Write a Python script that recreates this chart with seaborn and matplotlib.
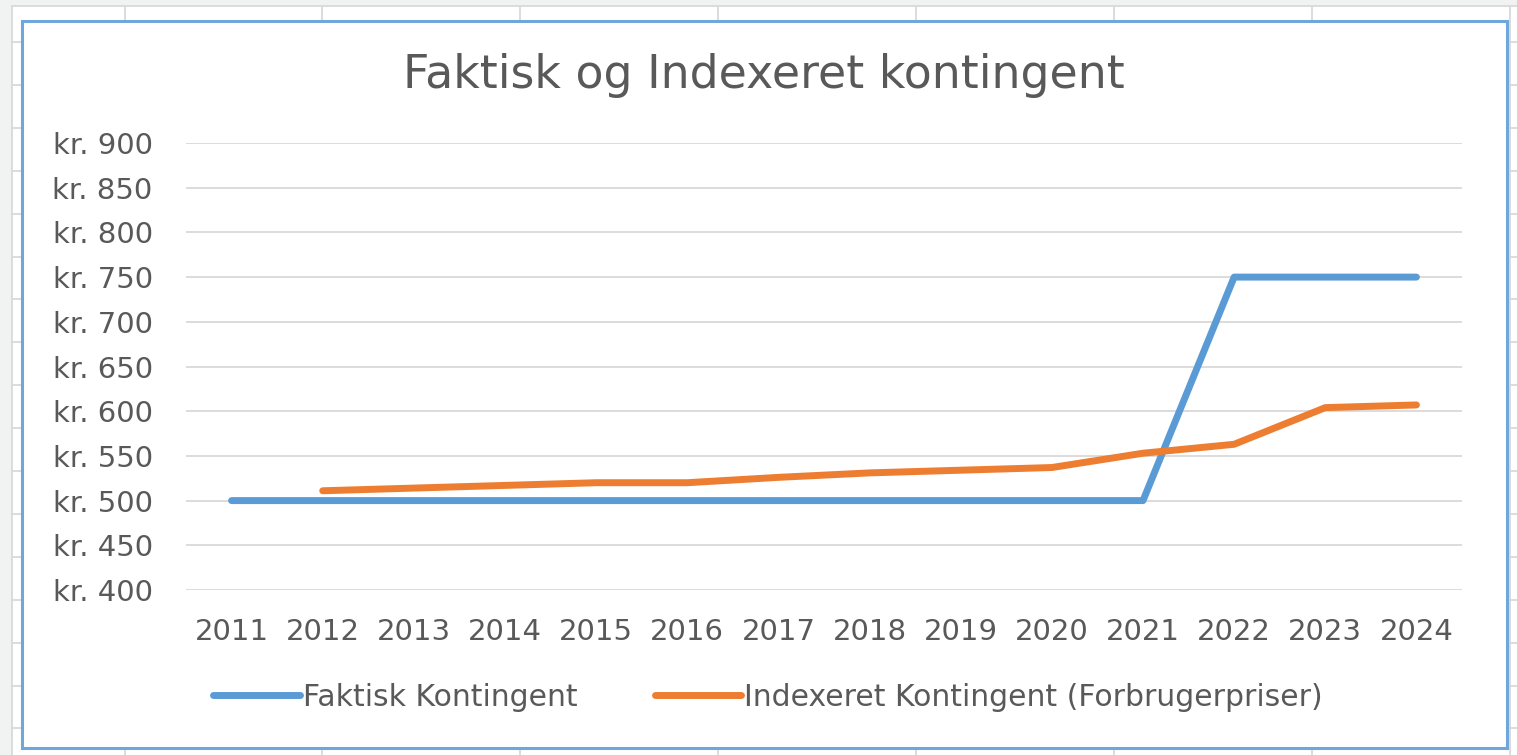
import numpy as np
import pandas as pd
import seaborn as sns
from matplotlib import pyplot as plt
from matplotlib.lines import Line2D
from matplotlib.patches import Rectangle

years = [2011, 2012, 2013, 2014, 2015, 2016, 2017, 2018, 2019, 2020, 2021, 2022, 2023, 2024]
faktisk = [500, 500, 500, 500, 500, 500, 500, 500, 500, 500, 500, 750, 750, 750]
indexeret = [np.nan, 511, 514, 517, 520, 520, 526, 531, 534, 537, 553, 563, 604, 607]
series_names = ["Faktisk Kontingent", "Indexeret Kontingent (Forbrugerpriser)"]
series_colors = ["#5B9BD5", "#ED7D31"]
y_ticks = [400, 450, 500, 550, 600, 650, 700, 750, 800, 850, 900]
title = "Faktisk og Indexeret kontingent"

TEXT = "#595959"
W, H = 1517, 755


def sheet_background(fig):
    # spreadsheet cells behind the chart object
    bg = fig.add_axes([0, 0, 1, 1], zorder=-5)
    bg.set_xlim(0, W)
    bg.set_ylim(H, 0)
    bg.axis("off")
    bg.add_patch(Rectangle((0, 0), W, 6, color="#f1f2f2", lw=0))
    bg.add_patch(Rectangle((0, 0), 12, H, color="#f1f2f2", lw=0))
    for x in [12, 125, 322, 520, 718, 916, 1114, 1312, 1510]:
        bg.plot([x, x], [6, H], color="#d9d9d9", lw=1.3, zorder=1)
    for y in [6] + [42 + 42.9 * i for i in range(17)]:
        bg.plot([12, W], [y, y], color="#d9d9d9", lw=1.3, zorder=1)
    bg.add_patch(Rectangle((22, 21), 1485, 727, facecolor="white",
                           edgecolor="#6fa6dc", lw=2.2, zorder=3))


def main() -> None:
    sns.set_theme(style="white")
    plt.rcParams["font.family"] = ["DejaVu Sans"]

    df = pd.DataFrame({
        "year": years * 2,
        "value": faktisk + indexeret,
        "serie": [series_names[0]] * len(years) + [series_names[1]] * len(years),
    })

    fig = plt.figure(figsize=(W / 100, H / 100), dpi=100)
    sheet_background(fig)

    ax = fig.add_axes([186 / W, 1 - 590 / H, (1462 - 186) / W, (590 - 143) / H])
    ax.patch.set_alpha(0)
    sns.lineplot(data=df, x="year", y="value", hue="serie",
                 palette=dict(zip(series_names, series_colors)),
                 linewidth=5, legend=False, ax=ax,
                 solid_capstyle="round", solid_joinstyle="round")

    ax.set_xlim(2010.5, 2024.5)
    ax.set_ylim(400, 900)
    ax.set_xticks(years)
    ax.set_xticklabels([str(y) for y in years])
    ax.set_yticks(y_ticks)
    ax.set_yticklabels([f"kr. {v}" for v in y_ticks])
    ax.set_xlabel("")
    ax.set_ylabel("")
    ax.yaxis.grid(True, color="#d9d9d9", lw=1.3)
    ax.xaxis.grid(False)
    ax.set_axisbelow(True)
    for s in ax.spines.values():
        s.set_visible(False)
    ax.tick_params(axis="x", length=0, pad=20, labelsize=21, labelcolor=TEXT)
    ax.tick_params(axis="y", length=0, pad=24, labelsize=21, labelcolor=TEXT)

    fig.text(764 / W, 1 - 75 / H, title, ha="center", va="center",
             fontsize=33, color=TEXT)

    handles = [Line2D([], [], color=c, lw=5, solid_capstyle="round") for c in series_colors]
    leg = ax.legend(handles, series_names, loc="center", ncol=2,
                    bbox_to_anchor=(768 / W, 1 - 697 / H), bbox_transform=fig.transFigure,
                    frameon=False, fontsize=21.5, handlelength=2.9, handletextpad=0.1,
                    columnspacing=2.6)
    for t in leg.get_texts():
        t.set_color(TEXT)

    fig.savefig("out.png", dpi=100)
    plt.close(fig)


if __name__ == "__main__":
    main()
